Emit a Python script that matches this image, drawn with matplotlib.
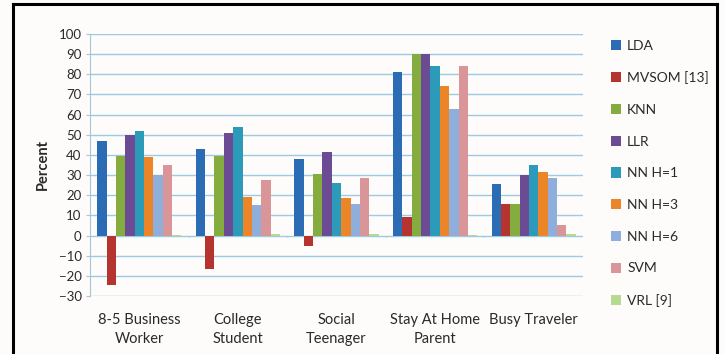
import numpy as np
import matplotlib
matplotlib.use("Agg")
import matplotlib.pyplot as plt
from matplotlib.patches import Patch
from matplotlib.lines import Line2D

plt.rcParams["font.family"] = ["Lato", "DejaVu Sans"]

categories = ["8-5 Business\nWorker", "College\nStudent", "Social\nTeenager",
              "Stay At Home\nParent", "Busy Traveler"]
methods = ["LDA", "MVSOM [13]", "KNN", "LLR", "NN H=1", "NN H=3", "NN H=6", "SVM", "VRL [9]"]

lda   = [47, 43, 38, 81, 25.5]
mvsom = [-24.5, -16.5, -5, 9, 15.5]
knn   = [39.5, 39.5, 30.5, 90, 15.5]
llr   = [50, 51, 41.5, 90, 30]
nn1   = [52, 54, 26, 84, 35]
nn3   = [39, 19, 18.5, 74, 31.5]
nn6   = [30, 15, 15.5, 63, 28.5]
svm   = [35, 27.5, 28.5, 84, 5]
vrl   = [0.5, 1, 0.8, 0.4, 1]

series = [lda, mvsom, knn, llr, nn1, nn3, nn6, svm, vrl]
colors = ["#2B6CB4", "#B5342F", "#84AC3E", "#6A4B94", "#2C9BB9",
          "#EC8428", "#8EAEDB", "#DA9599", "#B7DA92"]

fig = plt.figure(figsize=(7.25, 3.54), dpi=100, facecolor="#fefbfb")
ax = fig.add_axes([90 / 725, 1 - 296 / 354, 493 / 725, 262 / 354])
ax.set_facecolor("#fefbfb")

x = np.arange(len(categories))
w = 0.095
for j, (vals, c) in enumerate(zip(series, colors)):
    ax.bar(x + (j - 4) * w, vals, width=w, color=c, label=methods[j], zorder=3)

ax.set_xlim(-0.5, len(categories) - 0.5)
ax.set_ylim(-30, 100)
ax.set_yticks(np.arange(-30, 101, 10))
ax.grid(axis="y", color="#9DCBE1", linewidth=1.0, zorder=0)
ax.set_axisbelow(True)

for s in ["top", "right", "bottom"]:
    ax.spines[s].set_visible(False)
ax.spines["left"].set_color("#A8C5D8")
ax.tick_params(axis="y", length=3, color="#A8C5D8", labelsize=9.5,
               labelcolor="#2a2a2a", pad=3)

# category labels below the plot, small separators on the zero line
ax.set_xticks(x)
ax.set_xticklabels(categories, fontsize=10.5, color="#2a2a2a", linespacing=1.45)
ax.tick_params(axis="x", length=0, pad=12)
ax.vlines(np.arange(0.5, len(categories) - 0.5, 1), -0.9, 0, color="#A8C5D8",
          linewidth=1, zorder=2)

ax.set_ylabel("Percent", fontsize=10.5, fontweight="bold", color="#2a2a2a", labelpad=6)

handles = [Patch(facecolor=c, edgecolor="none") for c in colors]
fig.legend(handles, methods, loc="upper left", bbox_to_anchor=(598 / 725, 1 - 27 / 354),
           frameon=False, fontsize=10, handlelength=0.75, handleheight=0.75,
           handletextpad=0.45, labelspacing=1.42, labelcolor="#2a2a2a")

# outer frame
fr = dict(color="black", linewidth=2.2, transform=fig.transFigure)
fig.add_artist(Line2D([13 / 725, 13 / 725], [0, 1 - 4 / 354], **fr))
fig.add_artist(Line2D([717 / 725, 717 / 725], [0, 1 - 4 / 354], **fr))
fig.add_artist(Line2D([13 / 725, 717 / 725], [1 - 4 / 354, 1 - 4 / 354], **fr))

fig.savefig("out.png", dpi=100, facecolor=fig.get_facecolor())
